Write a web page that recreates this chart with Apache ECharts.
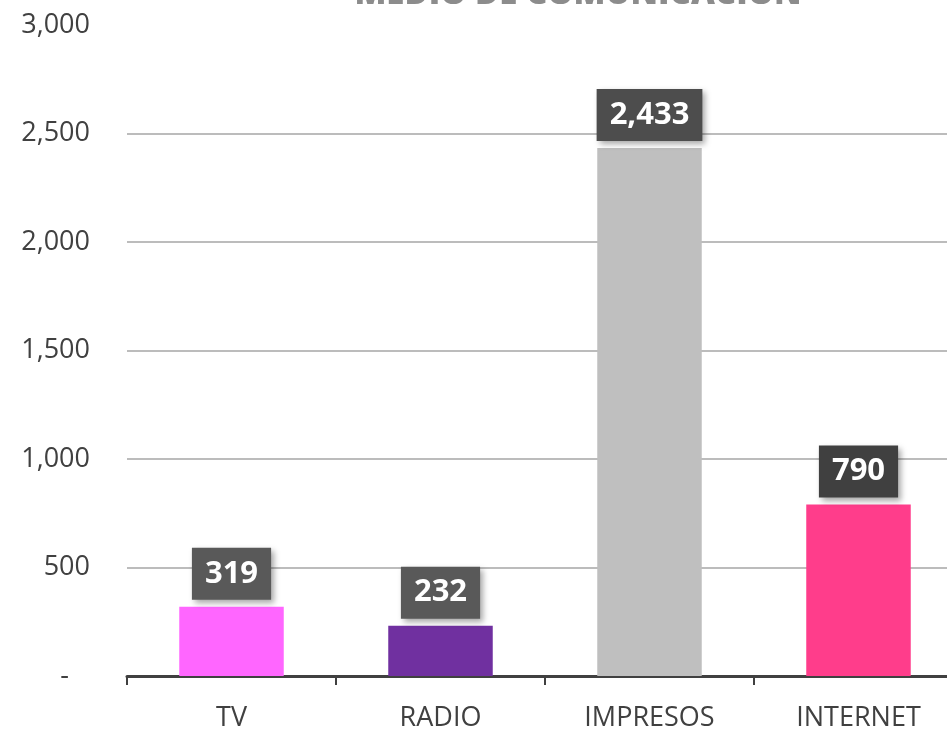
<!DOCTYPE html>
<html>
<head>
<meta charset="utf-8">
<script src="https://cdn.jsdelivr.net/npm/echarts@6/dist/echarts.min.js"></script>
<style>
  html, body { margin: 0; padding: 0; background: #fff; }
  #chart { width: 947px; height: 729px; }
</style>
</head>
<body>
<div id="chart"></div>
<script>
var categories = ['TV', 'RADIO', 'IMPRESOS', 'INTERNET'];
var values = [319, 232, 2433, 790];
var barColors = ['#FF66FF', '#7030A0', '#BFBFBF', '#FF3D8B'];
var labelColors = ['#595959', '#595959', '#4d4d4d', '#404040'];
var titleText = 'MEDIO DE COMUNICACIÓN';

var chart = echarts.init(document.getElementById('chart'));

function fmt(v) {
    if (v === 0) return '-   ';
    return v.toString().replace(/\B(?=(\d{3})+(?!\d))/g, ',');
}

// no gridline at the top (3,000)
var gridColors = ['#a6a6a6', '#a6a6a6', '#a6a6a6', '#a6a6a6', '#a6a6a6', '#a6a6a6', 'rgba(0,0,0,0)'];

chart.setOption({
    backgroundColor: '#ffffff',
    animation: false,
    title: {
        text: titleText,
        left: 573,
        top: -27,
        textAlign: 'center',
        textStyle: {
            fontFamily: 'Open Sans',
            fontWeight: 800,
            fontSize: 33,
            color: '#8c8c8c'
        }
    },
    grid: {
        left: 127,
        top: 25,
        bottom: 53,
        width: 836,
        outerBoundsMode: 'none'
    },
    xAxis: {
        type: 'category',
        data: categories,
        axisLine: { lineStyle: { color: '#404040', width: 3 } },
        axisTick: { show: true, length: 9, lineStyle: { color: '#404040', width: 2 } },
        axisLabel: {
            margin: 29,
            fontFamily: 'Open Sans',
            fontSize: 27,
            color: '#404040'
        }
    },
    yAxis: {
        type: 'value',
        min: 0,
        max: 3000,
        interval: 500,
        axisLine: { show: false },
        axisTick: { show: false },
        splitLine: { lineStyle: { color: gridColors, width: 1.5 } },
        axisLabel: {
            margin: 37,
            fontFamily: 'Open Sans',
            fontSize: 27,
            color: '#404040',
            formatter: fmt
        }
    },
    series: [{
        type: 'bar',
        barWidth: '50%',
        data: values.map(function (v, i) {
            return {
                value: v,
                itemStyle: { color: barColors[i] },
                label: { backgroundColor: labelColors[i] }
            };
        }),
        label: {
            show: true,
            position: 'top',
            distance: 7,
            formatter: function (p) { return fmt(p.value); },
            fontFamily: 'Open Sans',
            fontWeight: 'bold',
            fontSize: 31,
            lineHeight: 34,
            color: '#ffffff',
            padding: [9, 13],
            shadowBlur: 6,
            shadowColor: 'rgba(0,0,0,0.35)',
            shadowOffsetX: 3,
            shadowOffsetY: 3
        }
    }]
});
</script>
</body>
</html>
